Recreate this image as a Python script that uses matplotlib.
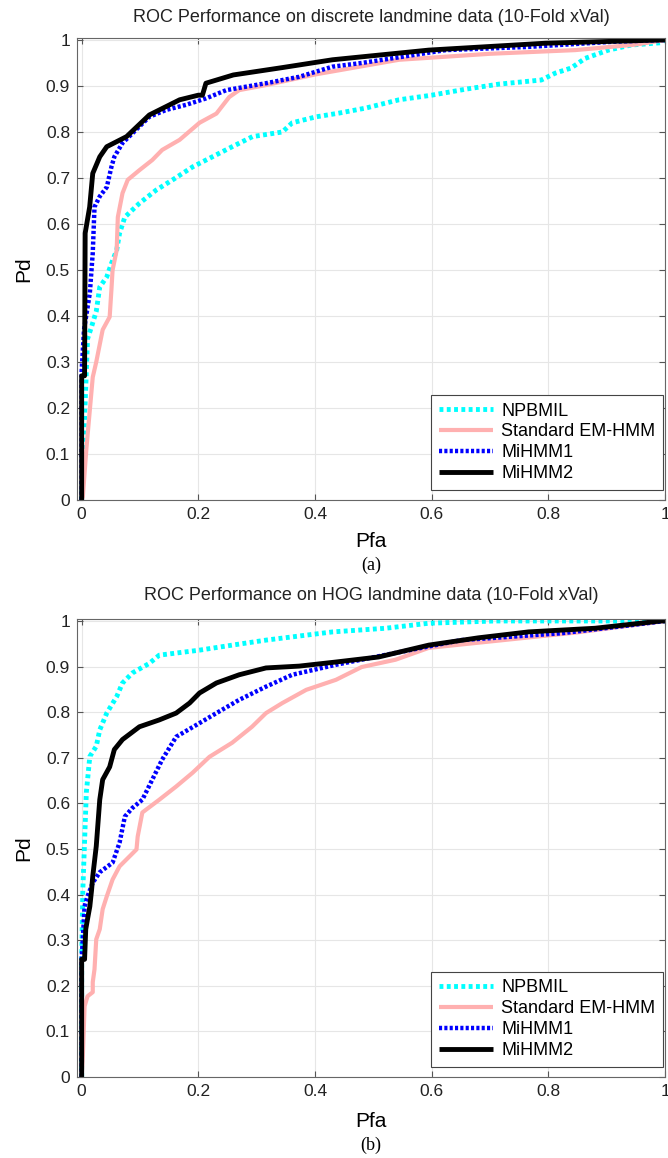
import numpy as np
import matplotlib
matplotlib.use('Agg')
import matplotlib.pyplot as plt

plt.rcParams['font.family'] = ['Liberation Sans', 'DejaVu Sans']

labels = ['NPBMIL', 'Standard EM-HMM', 'MiHMM1', 'MiHMM2']

# (a) discrete landmine data
a_npb_x = [0, 0.003, 0.008, 0.01, 0.017, 0.025, 0.031, 0.043, 0.051, 0.06, 0.065, 0.074, 0.099, 0.128,
           0.156, 0.19, 0.224, 0.258, 0.293, 0.344, 0.361, 0.402, 0.441, 0.487, 0.544, 0.6, 0.658, 0.715,
           0.788, 0.812, 0.839, 0.863, 0.903, 0.942, 0.993, 1.0]
a_npb_y = [0, 0.11, 0.28, 0.35, 0.377, 0.41, 0.463, 0.485, 0.514, 0.543, 0.58, 0.615, 0.645, 0.674,
           0.696, 0.724, 0.746, 0.768, 0.79, 0.8, 0.82, 0.833, 0.841, 0.852, 0.87, 0.88, 0.893, 0.904,
           0.913, 0.928, 0.939, 0.96, 0.978, 0.989, 0.994, 1.0]
a_em_x = [0, 0.002, 0.008, 0.014, 0.019, 0.025, 0.036, 0.048, 0.051, 0.053, 0.06, 0.062, 0.07, 0.079,
          0.099, 0.121, 0.138, 0.168, 0.202, 0.231, 0.253, 0.27, 0.316, 0.4, 0.544, 0.7, 0.846, 0.95, 1.0]
a_em_y = [0, 0.007, 0.11, 0.196, 0.267, 0.30, 0.37, 0.398, 0.457, 0.5, 0.543, 0.615, 0.667, 0.696,
          0.717, 0.739, 0.761, 0.783, 0.82, 0.84, 0.876, 0.891, 0.902, 0.925, 0.957, 0.97, 0.978, 0.99, 1.0]
a_mi1_x = [0, 0.0, 0.004, 0.014, 0.019, 0.022, 0.031, 0.043, 0.051, 0.056, 0.07, 0.087, 0.116, 0.145,
           0.179, 0.213, 0.248, 0.316, 0.373, 0.43, 0.48, 0.624, 0.766, 0.908, 1.0]
a_mi1_y = [0, 0.28, 0.37, 0.45, 0.537, 0.637, 0.66, 0.68, 0.724, 0.746, 0.776, 0.797, 0.833, 0.848,
           0.859, 0.873, 0.891, 0.906, 0.92, 0.942, 0.95, 0.978, 0.985, 0.996, 1.0]
a_mi2_x = [0, 0.0, 0.005, 0.006, 0.0137, 0.019, 0.031, 0.043, 0.077, 0.116, 0.168, 0.2, 0.207, 0.213,
           0.26, 0.344, 0.43, 0.595, 0.795, 0.993, 1.0]
a_mi2_y = [0, 0.27, 0.27, 0.58, 0.637, 0.71, 0.746, 0.768, 0.79, 0.837, 0.87, 0.88, 0.88, 0.906,
           0.924, 0.94, 0.957, 0.978, 0.993, 1.0, 1.0]

# (b) HOG landmine data
b_npb_x = [0, 0.0, 0.002, 0.008, 0.014, 0.025, 0.031, 0.043, 0.06, 0.07, 0.087, 0.116, 0.133, 0.202,
           0.258, 0.316, 0.43, 0.521, 0.595, 0.709, 1.0]
b_npb_y = [0, 0.26, 0.41, 0.624, 0.703, 0.725, 0.761, 0.798, 0.834, 0.864, 0.886, 0.907, 0.925, 0.936,
           0.947, 0.958, 0.976, 0.984, 0.995, 1.0, 1.0]
b_em_x = [0, 0.002, 0.005, 0.01, 0.019, 0.019, 0.022, 0.025, 0.031, 0.036, 0.043, 0.053, 0.065, 0.094,
          0.096, 0.104, 0.133, 0.162, 0.19, 0.219, 0.258, 0.292, 0.316, 0.344, 0.385, 0.436, 0.48, 0.538,
          0.595, 0.7, 0.85, 1.0]
b_em_y = [0, 0.046, 0.155, 0.177, 0.186, 0.208, 0.236, 0.302, 0.324, 0.368, 0.396, 0.433, 0.462, 0.499,
          0.527, 0.58, 0.608, 0.637, 0.667, 0.702, 0.733, 0.768, 0.798, 0.82, 0.849, 0.871, 0.899, 0.915,
          0.941, 0.955, 0.975, 1.0]
b_mi1_x = [0, 0.0, 0.005, 0.01, 0.019, 0.031, 0.053, 0.065, 0.074, 0.087, 0.104, 0.121, 0.138, 0.162,
           0.202, 0.231, 0.27, 0.316, 0.361, 0.436, 0.538, 0.651, 0.822, 0.937, 1.0]
b_mi1_y = [0, 0.258, 0.374, 0.396, 0.426, 0.449, 0.47, 0.514, 0.571, 0.59, 0.608, 0.652, 0.696, 0.746,
           0.776, 0.798, 0.827, 0.856, 0.882, 0.904, 0.93, 0.958, 0.973, 0.99, 1.0]
b_mi2_x = [0, 0.0, 0.005, 0.007, 0.01, 0.014, 0.017, 0.019, 0.025, 0.031, 0.036, 0.048, 0.056, 0.07,
           0.099, 0.133, 0.162, 0.185, 0.202, 0.231, 0.27, 0.316, 0.373, 0.436, 0.509, 0.595, 0.68, 0.766,
           0.88, 0.993, 1.0]
b_mi2_y = [0, 0.258, 0.258, 0.324, 0.346, 0.374, 0.41, 0.44, 0.506, 0.608, 0.652, 0.68, 0.718, 0.74,
           0.768, 0.783, 0.798, 0.82, 0.842, 0.864, 0.882, 0.897, 0.901, 0.91, 0.921, 0.947, 0.963, 0.976,
           0.984, 1.0, 1.0]

panels = [
    ('ROC Performance on discrete landmine data (10-Fold xVal)', '(a)',
     [(a_npb_x, a_npb_y), (a_em_x, a_em_y), (a_mi1_x, a_mi1_y), (a_mi2_x, a_mi2_y)]),
    ('ROC Performance on HOG landmine data (10-Fold xVal)', '(b)',
     [(b_npb_x, b_npb_y), (b_em_x, b_em_y), (b_mi1_x, b_mi1_y), (b_mi2_x, b_mi2_y)]),
]

styles = [
    dict(color='#00ffff', lw=3.5, ls=(0, (0.8, 0.7))),
    dict(color='#ffb0b0', lw=3.0, ls='-'),
    dict(color='#0000ff', lw=3.2, ls=(0, (0.7, 0.5))),
    dict(color='#000000', lw=3.5, ls='-'),
]

W, H = 668, 1158
fig = plt.figure(figsize=(W / 100, H / 100), dpi=100)

# pixel layout: (left, right, top, bottom) of each axes, plus text rows
boxes = [(77, 665, 37.5, 500), (77, 665, 618.5, 1077)]
title_y = [17, 595]
pfa_base = [547, 1127]
tag_y = [565, 1145]

for i, (title, tag, curves) in enumerate(panels):
    l, r, t, b = boxes[i]
    ax = fig.add_axes([l / W, 1 - b / H, (r - l) / W, (b - t) / H])
    for (xs, ys), lab, st in zip(curves, labels, styles):
        ax.plot(xs, ys, label=lab, solid_capstyle='butt', **st)
    ax.set_xlim(-0.008, 1.0)
    ax.set_ylim(0, 1.0054)
    ax.set_xticks(np.arange(0, 1.01, 0.2))
    ax.set_xticklabels(['0', '0.2', '0.4', '0.6', '0.8', '1'])
    ax.set_yticks(np.arange(0, 1.01, 0.1))
    ax.set_yticklabels(['0', '0.1', '0.2', '0.3', '0.4', '0.5', '0.6', '0.7', '0.8', '0.9', '1'])
    ax.tick_params(direction='in', top=True, right=True, labelsize=12.5, length=4,
                   color='#555555', pad=5, labelcolor='#222222')
    ax.grid(True, color='#e6e6e6', lw=0.8)
    ax.set_axisbelow(True)
    for sp in ax.spines.values():
        sp.set_color('#666666')
        sp.set_linewidth(0.8)

    h = b - t
    fig.text((l + r) / 2 / W, 1 - title_y[i] / H, title, ha='center', va='center',
             fontsize=13, color='#222222')
    ax.set_xlabel('Pfa', fontsize=15)
    ax.xaxis.label.set_va('baseline')
    ax.xaxis.set_label_coords(0.5, (b - pfa_base[i]) / h)
    ax.set_ylabel('Pd', fontsize=15)
    ax.yaxis.label.set_va('center')
    ax.yaxis.set_label_coords((23.5 - l) / (r - l), 0.5)
    ax.text(0.5, (b - tag_y[i]) / h, tag, transform=ax.transAxes, ha='center', va='center',
            fontsize=13, family='Liberation Serif')

    leg = ax.legend(loc='lower right', bbox_to_anchor=((663 - l) / (r - l), 10 / h), fontsize=13,
                    fancybox=False, edgecolor='#444444', framealpha=1, borderaxespad=0,
                    handlelength=3.0, handletextpad=0.45, labelspacing=0.22, borderpad=0.42)
    leg.get_frame().set_linewidth(0.8)

fig.savefig('out.png', dpi=100)
